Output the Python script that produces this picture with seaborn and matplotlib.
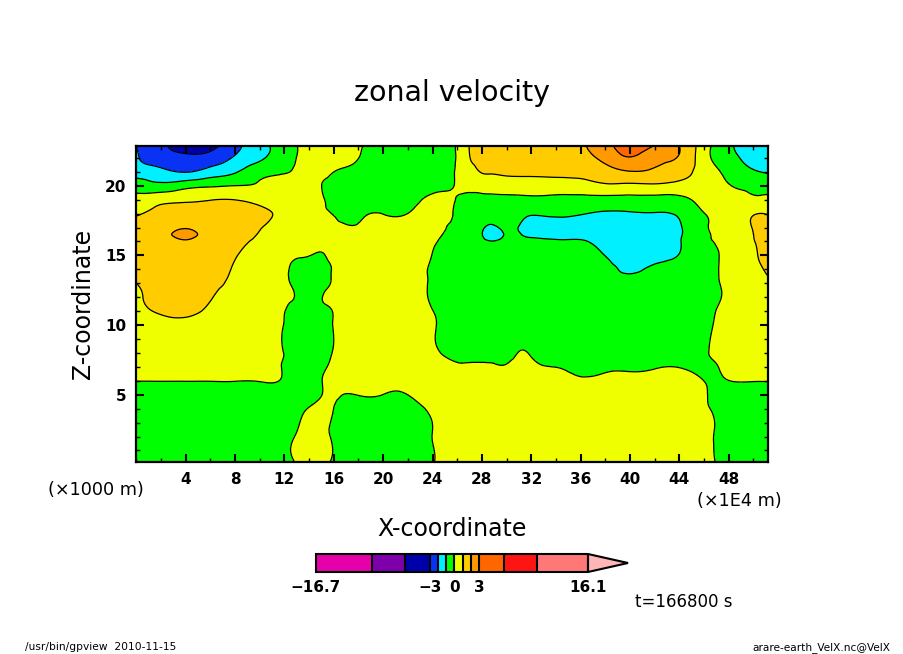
import numpy as np
import matplotlib
matplotlib.use("Agg")
import matplotlib.pyplot as plt
import matplotlib.tri as mtri
from matplotlib.colors import ListedColormap, BoundaryNorm
from matplotlib.ticker import MultipleLocator
import seaborn as sns

x_km = [0, 2, 4, 6, 8, 10, 12, 13, 14, 15, 16, 17, 18, 20, 22, 24, 26, 27, 28, 29, 30, 31, 32,
        34, 36, 38, 40, 42, 44, 46, 48, 50, 51.2]
z_km = [0.15, 2, 4, 5, 6, 7, 8, 10, 11, 12, 13, 14, 15, 16, 16.5, 17, 18, 19, 20, 21, 22, 22.85]

u_z00 = [-.6,-.6,-.6,-.6,-.5,-.4,-.2,.04,.2,.14,-.06,-.2,-.3,-.5,-.4,-.02,.18,.3,.4,.45,.5,.5,.5,.5,.5,.5,.5,.5,.4,.15,-.18,-.3,-.3]
u_z02 = [-.6,-.6,-.6,-.6,-.5,-.4,-.18,.04,.2,.14,-.06,-.2,-.3,-.5,-.3,.005,.2,.3,.4,.45,.5,.5,.5,.5,.5,.5,.5,.5,.4,.14,-.19,-.3,-.3]
u_z04 = [-.7,-.7,-.7,-.7,-.7,-.7,-.6,-.2,.02,.1,-.005,-.3,-.3,-.35,-.3,.15,.35,.4,.45,.5,.5,.5,.5,.5,.5,.5,.5,.5,.4,.07,-.16,-.3,-.3]
u_z05 = [-.5,-.5,-.5,-.5,-.5,-.5,-.5,-.4,-.2,-.01,.1,-.025,.02,-.005,.003,.4,.5,.5,.5,.5,.5,.5,.5,.45,.4,.4,.4,.4,.35,.04,-.16,-.3,-.3]
u_z06 = [.02,.02,.02,.02,.02,.03,-.12,-.5,-.4,-.02,.2,.3,.3,.2,.2,.3,.35,.35,.35,.35,.35,.35,.35,.3,.1,.15,.2,.25,.3,-.005,-.005,.03,.03]
u_z07 = [.4,.4,.4,.4,.4,.3,-.1,-.5,-.5,-.2,.2,.4,.5,.5,.5,.4,.1,.1,.1,.07,.05,.2,.1,-.01,-.2,-.12,-.12,-.06,-.03,-.15,.2,.5,.5]
u_z08 = [.5,.5,.5,.5,.5,.4,-.03,-.5,-.6,-.4,.07,.4,.5,.5,.5,.15,-.18,-.2,-.2,-.2,-.2,.02,-.05,-.3,-.4,-.4,-.4,-.4,-.4,-.08,.3,.5,.5]
u_z10 = [.55,.7,.75,.65,.55,.4,-.04,-.6,-.7,-.4,.04,.4,.5,.5,.5,.1,-.4,-.45,-.5,-.5,-.5,-.5,-.5,-.6,-.6,-.6,-.6,-.6,-.6,-.2,.3,.5,.5]
u_z11 = [.8,1.1,1.2,.85,.6,.4,.02,-.4,-.6,-.3,.05,.4,.5,.5,.5,.02,-.5,-.55,-.6,-.6,-.6,-.6,-.6,-.7,-.7,-.7,-.7,-.7,-.7,-.27,.25,.5,.5]
u_z12 = [.9,1.25,1.35,1.05,.7,.5,.1,-.07,-.5,-.05,.2,.4,.5,.5,.4,-.12,-.5,-.55,-.6,-.6,-.6,-.6,-.6,-.7,-.7,-.7,-.7,-.7,-.7,-.35,.15,.5,.5]
u_z13 = [1.0,1.3,1.4,1.2,.85,.5,.1,-.2,-.5,-.3,.1,.4,.5,.5,.3,-.1,-.5,-.55,-.6,-.6,-.6,-.6,-.6,-.7,-.8,-.8,-.85,-.8,-.8,-.4,.2,.6,.85]
u_z14 = [1.2,1.4,1.5,1.3,.93,.5,.1,-.2,-.5,-.4,.1,.4,.5,.5,.3,-.1,-.5,-.55,-.6,-.6,-.6,-.6,-.7,-.8,-.85,-.9,-1.05,-.92,-.8,-.4,.27,.8,1.1]
u_z15 = [1.3,1.5,1.6,1.4,1.05,.6,.3,.1,.03,-.1,.3,.4,.5,.5,.4,-.02,-.5,-.6,-.65,-.68,-.7,-.75,-.8,-.85,-.88,-1.01,-1.3,-1.2,-.98,-.4,.25,.9,1.2]
u_z16 = [1.4,1.55,1.85,1.5,1.2,.85,.6,.5,.5,.4,.4,.4,.45,.5,.4,.1,-.4,-.6,-.85,-.97,-.85,-.88,-.9,-.95,-.95,-1.25,-1.5,-1.4,-1.05,-.2,.3,.97,1.2]
u_z165 = [1.45,1.6,2.3,1.5,1.25,.95,.6,.5,.5,.45,.35,.3,.35,.45,.45,.2,-.33,-.6,-.98,-1.3,-.9,-.95,-1.1,-1.15,-1.2,-1.35,-1.5,-1.45,-1.1,-.15,.3,1.0,1.25]
u_z17 = [1.3,1.6,1.9,1.55,1.3,1.05,.55,.45,.4,.3,.2,.08,.08,.3,.4,.25,-.2,-.45,-.9,-1.1,-.85,-1.02,-1.2,-1.3,-1.35,-1.45,-1.5,-1.5,-1.1,-.1,.3,1.05,1.3]
u_z18 = [.9,1.3,1.4,1.4,1.35,1.2,.8,.6,.4,.15,-.03,-.2,-.12,-.01,.005,.4,-.1,-.3,-.6,-.7,-.65,-.8,-.95,-.85,-.95,-1.1,-1.08,-1.05,-.85,-.02,.4,.95,.95]
u_z19 = [.25,.7,.85,.97,.99,.7,.4,.3,.2,.1,-.4,-.5,-.5,-.4,-.35,.25,-.07,-.4,-.35,-.32,-.3,-.28,-.25,-.25,-.3,-.35,-.35,-.35,-.3,.35,.45,.15,.2]
u_z20 = [-.4,-.7,-.35,-.12,.003,.1,.3,.3,.25,.005,-.3,-.4,-.5,-.5,-.5,-.35,.1,.4,.5,.55,.6,.6,.6,.55,.6,.85,.8,.85,.75,.6,.05,-.2,-.3]
u_z21 = [-1.5,-1.75,-2.05,-1.6,-1.1,-.3,-.05,.08,.2,.25,.005,-.15,-.3,-.5,-.5,-.4,.1,.7,1.03,1.05,1.1,1.12,1.13,1.2,1.3,1.6,1.95,1.8,1.35,.6,-.3,-.9,-1.1]
u_z22 = [-1.92,-2.5,-2.8,-2.6,-1.9,-1.2,-.3,.01,.3,.4,.4,.3,.01,-.4,-.5,-.4,.1,.98,1.15,1.25,1.3,1.3,1.3,1.4,1.7,2.3,2.95,2.4,1.9,.4,-.7,-1.3,-1.5]
u_z23 = [-1.99,-2.75,-3.5,-3.3,-2.3,-1.3,-.55,-.02,.3,.4,.4,.35,.1,-.3,-.4,-.4,.1,1.03,1.2,1.3,1.3,1.3,1.35,1.5,1.85,2.7,3.3,2.95,2.0,.45,-.85,-1.4,-1.5]

levels = [-16.7, -10, -6, -3, -2, -1, 0, 1, 2, 3, 6, 10, 16.1]
level_colors = ["#E600AA", "#7D00AA", "#0000AA", "#0A32F5", "#00F0FF", "#00FF00", "#F0FF00",
                "#FFCC00", "#FF9900", "#FF6600", "#FF1414", "#FF7878"]
over_color = "#FFB6B6"
cbar_ticks = [-16.7, -3, 0, 3, 16.1]
cbar_labels = ["\u221216.7", "\u22123", "0", "3", "16.1"]
x_ticks = [4, 8, 12, 16, 20, 24, 28, 32, 36, 40, 44, 48]
z_ticks = [5, 10, 15, 20]

sns.set_theme(style="ticks")
plt.rcParams["font.family"] = ["DejaVu Sans"]
plt.rcParams["axes.unicode_minus"] = True

W, H = 904, 654
fig = plt.figure(figsize=(W / 100, H / 100), dpi=100, facecolor="white")


def box(left, top, right, bottom):
    return [left / W, 1 - bottom / H, (right - left) / W, (bottom - top) / H]


ax = fig.add_axes(box(136.3, 146, 768.3, 462.3))
field = np.array([u_z00, u_z02, u_z04, u_z05, u_z06, u_z07, u_z08, u_z10, u_z11, u_z12, u_z13, u_z14,
                  u_z15, u_z16, u_z165, u_z17, u_z18, u_z19, u_z20, u_z21, u_z22, u_z23])
cmap = ListedColormap(sns.color_palette(level_colors, len(level_colors)))
cmap.set_over(over_color)
norm = BoundaryNorm(levels, cmap.N)

# matplotlib's triangular refiner rounds the contour lines; the read values stay as they are.
gx, gz = np.meshgrid(x_km, z_km)
tri = mtri.Triangulation(gx.ravel(), gz.ravel())
refined_tri, refined_field = mtri.UniformTriRefiner(tri).refine_field(field.ravel(), subdiv=3)
cf = ax.tricontourf(refined_tri, refined_field, levels=levels, cmap=cmap, norm=norm, extend="max")
ax.tricontour(refined_tri, refined_field, levels=levels, colors="black", linewidths=0.9, linestyles="solid")

ax.set_xlim(0, 51.2)
ax.set_ylim(0.15, 22.85)
ax.set_xticks(x_ticks)
ax.set_yticks(z_ticks)
ax.xaxis.set_minor_locator(MultipleLocator(2))
ax.yaxis.set_minor_locator(MultipleLocator(1))
ax.set_axisbelow(False)
ax.tick_params(which="major", direction="in", top=True, right=True, length=6, width=1.5, labelsize=11,
               colors="black", pad=7)
ax.tick_params(which="minor", direction="in", top=True, right=True, length=3, width=1.0, colors="black")
for lab in ax.get_xticklabels() + ax.get_yticklabels():
    lab.set_fontweight("bold")
for s in ax.spines.values():
    s.set_linewidth(1.6)
    s.set_color("black")
ax.grid(False)

cax = fig.add_axes(box(316, 554, 628, 572))
cb = fig.colorbar(cf, cax=cax, orientation="horizontal", spacing="proportional",
                  extendfrac=40 / 272, drawedges=True)
cb.set_ticks(cbar_ticks, labels=cbar_labels)
cb.ax.tick_params(length=0, labelsize=11, pad=6, colors="black")
cb.ax.minorticks_off()
for lab in cb.ax.get_xticklabels():
    lab.set_fontweight("bold")
cb.outline.set_linewidth(1.5)
cb.outline.set_edgecolor("black")
cb.dividers.set_linewidth(1.5)
cb.dividers.set_color("black")


def put(px, py, s, **kw):
    fig.text(px / W, 1 - py / H, s, ha=kw.pop("ha", "center"), va="center", color="black", **kw)


put(452.5, 93, "zonal velocity", fontsize=20.5)
put(452, 529, "X-coordinate", fontsize=17)
put(83, 304, "Z-coordinate", fontsize=17, rotation=90)
put(95.5, 490, "(\u00d71000 m)", fontsize=12.7)
put(739, 501, "(\u00d71E4 m)", fontsize=12.7)
put(684, 602, "t=166800 s", fontsize=12)
put(25, 647.5, "/usr/bin/gpview  2010-11-15", fontsize=7.7, ha="left")
put(890, 647.5, "arare-earth_VelX.nc@VelX", fontsize=7.6, ha="right")

fig.savefig("out.png", dpi=100, facecolor="white")
